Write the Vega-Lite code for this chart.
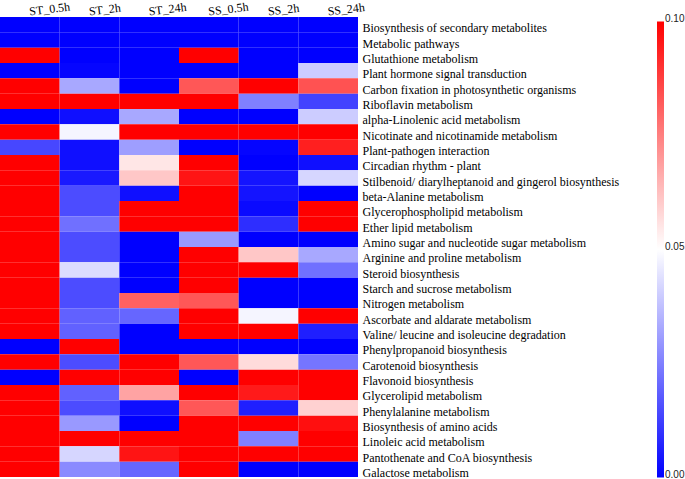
{
  "$schema": "https://vega.github.io/schema/vega-lite/v6.json",
  "autosize": {"type": "none"},
  "padding": {"left": 0, "top": 17, "right": 327, "bottom": 2},
  "width": 358,
  "height": 460,
  "background": "white",
  "data": {"values": [
    {"p":"Biosynthesis of secondary metabolites","s":"ST_0.5h","v":0},{"p":"Biosynthesis of secondary metabolites","s":"ST_2h","v":0},{"p":"Biosynthesis of secondary metabolites","s":"ST_24h","v":0},{"p":"Biosynthesis of secondary metabolites","s":"SS_0.5h","v":0},{"p":"Biosynthesis of secondary metabolites","s":"SS_2h","v":0},{"p":"Biosynthesis of secondary metabolites","s":"SS_24h","v":0},
    {"p":"Metabolic pathways","s":"ST_0.5h","v":0},{"p":"Metabolic pathways","s":"ST_2h","v":0},{"p":"Metabolic pathways","s":"ST_24h","v":0},{"p":"Metabolic pathways","s":"SS_0.5h","v":0},{"p":"Metabolic pathways","s":"SS_2h","v":0},{"p":"Metabolic pathways","s":"SS_24h","v":0},
    {"p":"Glutathione metabolism","s":"ST_0.5h","v":0.1},{"p":"Glutathione metabolism","s":"ST_2h","v":0},{"p":"Glutathione metabolism","s":"ST_24h","v":0},{"p":"Glutathione metabolism","s":"SS_0.5h","v":0.1},{"p":"Glutathione metabolism","s":"SS_2h","v":0},{"p":"Glutathione metabolism","s":"SS_24h","v":0},
    {"p":"Plant hormone signal transduction","s":"ST_0.5h","v":0},{"p":"Plant hormone signal transduction","s":"ST_2h","v":0.001},{"p":"Plant hormone signal transduction","s":"ST_24h","v":0},{"p":"Plant hormone signal transduction","s":"SS_0.5h","v":0},{"p":"Plant hormone signal transduction","s":"SS_2h","v":0},{"p":"Plant hormone signal transduction","s":"SS_24h","v":0.04},
    {"p":"Carbon fixation in photosynthetic organisms","s":"ST_0.5h","v":0.1},{"p":"Carbon fixation in photosynthetic organisms","s":"ST_2h","v":0.033},{"p":"Carbon fixation in photosynthetic organisms","s":"ST_24h","v":0},{"p":"Carbon fixation in photosynthetic organisms","s":"SS_0.5h","v":0.083},{"p":"Carbon fixation in photosynthetic organisms","s":"SS_2h","v":0.1},{"p":"Carbon fixation in photosynthetic organisms","s":"SS_24h","v":0.084},
    {"p":"Riboflavin metabolism","s":"ST_0.5h","v":0.1},{"p":"Riboflavin metabolism","s":"ST_2h","v":0.1},{"p":"Riboflavin metabolism","s":"ST_24h","v":0.1},{"p":"Riboflavin metabolism","s":"SS_0.5h","v":0.1},{"p":"Riboflavin metabolism","s":"SS_2h","v":0.025},{"p":"Riboflavin metabolism","s":"SS_24h","v":0.013},
    {"p":"alpha-Linolenic acid metabolism","s":"ST_0.5h","v":0},{"p":"alpha-Linolenic acid metabolism","s":"ST_2h","v":0.003},{"p":"alpha-Linolenic acid metabolism","s":"ST_24h","v":0.033},{"p":"alpha-Linolenic acid metabolism","s":"SS_0.5h","v":0},{"p":"alpha-Linolenic acid metabolism","s":"SS_2h","v":0},{"p":"alpha-Linolenic acid metabolism","s":"SS_24h","v":0.04},
    {"p":"Nicotinate and nicotinamide metabolism","s":"ST_0.5h","v":0.1},{"p":"Nicotinate and nicotinamide metabolism","s":"ST_2h","v":0.048},{"p":"Nicotinate and nicotinamide metabolism","s":"ST_24h","v":0.1},{"p":"Nicotinate and nicotinamide metabolism","s":"SS_0.5h","v":0.1},{"p":"Nicotinate and nicotinamide metabolism","s":"SS_2h","v":0.1},{"p":"Nicotinate and nicotinamide metabolism","s":"SS_24h","v":0.1},
    {"p":"Plant-pathogen interaction","s":"ST_0.5h","v":0.014},{"p":"Plant-pathogen interaction","s":"ST_2h","v":0.003},{"p":"Plant-pathogen interaction","s":"ST_24h","v":0.031},{"p":"Plant-pathogen interaction","s":"SS_0.5h","v":0},{"p":"Plant-pathogen interaction","s":"SS_2h","v":0.001},{"p":"Plant-pathogen interaction","s":"SS_24h","v":0.094},
    {"p":"Circadian rhythm - plant","s":"ST_0.5h","v":0.1},{"p":"Circadian rhythm - plant","s":"ST_2h","v":0.003},{"p":"Circadian rhythm - plant","s":"ST_24h","v":0.055},{"p":"Circadian rhythm - plant","s":"SS_0.5h","v":0.1},{"p":"Circadian rhythm - plant","s":"SS_2h","v":0},{"p":"Circadian rhythm - plant","s":"SS_24h","v":0.003},
    {"p":"Stilbenoid/ diarylheptanoid and gingerol biosynthesis","s":"ST_0.5h","v":0.1},{"p":"Stilbenoid/ diarylheptanoid and gingerol biosynthesis","s":"ST_2h","v":0.005},{"p":"Stilbenoid/ diarylheptanoid and gingerol biosynthesis","s":"ST_24h","v":0.061},{"p":"Stilbenoid/ diarylheptanoid and gingerol biosynthesis","s":"SS_0.5h","v":0.096},{"p":"Stilbenoid/ diarylheptanoid and gingerol biosynthesis","s":"SS_2h","v":0.004},{"p":"Stilbenoid/ diarylheptanoid and gingerol biosynthesis","s":"SS_24h","v":0.042},
    {"p":"beta-Alanine metabolism","s":"ST_0.5h","v":0.1},{"p":"beta-Alanine metabolism","s":"ST_2h","v":0.015},{"p":"beta-Alanine metabolism","s":"ST_24h","v":0.003},{"p":"beta-Alanine metabolism","s":"SS_0.5h","v":0.1},{"p":"beta-Alanine metabolism","s":"SS_2h","v":0.004},{"p":"beta-Alanine metabolism","s":"SS_24h","v":0},
    {"p":"Glycerophospholipid metabolism","s":"ST_0.5h","v":0.1},{"p":"Glycerophospholipid metabolism","s":"ST_2h","v":0.015},{"p":"Glycerophospholipid metabolism","s":"ST_24h","v":0.1},{"p":"Glycerophospholipid metabolism","s":"SS_0.5h","v":0.1},{"p":"Glycerophospholipid metabolism","s":"SS_2h","v":0.002},{"p":"Glycerophospholipid metabolism","s":"SS_24h","v":0.1},
    {"p":"Ether lipid metabolism","s":"ST_0.5h","v":0.1},{"p":"Ether lipid metabolism","s":"ST_2h","v":0.022},{"p":"Ether lipid metabolism","s":"ST_24h","v":0.1},{"p":"Ether lipid metabolism","s":"SS_0.5h","v":0.1},{"p":"Ether lipid metabolism","s":"SS_2h","v":0.009},{"p":"Ether lipid metabolism","s":"SS_24h","v":0.1},
    {"p":"Amino sugar and nucleotide sugar metabolism","s":"ST_0.5h","v":0.1},{"p":"Amino sugar and nucleotide sugar metabolism","s":"ST_2h","v":0.015},{"p":"Amino sugar and nucleotide sugar metabolism","s":"ST_24h","v":0},{"p":"Amino sugar and nucleotide sugar metabolism","s":"SS_0.5h","v":0.03},{"p":"Amino sugar and nucleotide sugar metabolism","s":"SS_2h","v":0},{"p":"Amino sugar and nucleotide sugar metabolism","s":"SS_24h","v":0},
    {"p":"Arginine and proline metabolism","s":"ST_0.5h","v":0.1},{"p":"Arginine and proline metabolism","s":"ST_2h","v":0.015},{"p":"Arginine and proline metabolism","s":"ST_24h","v":0},{"p":"Arginine and proline metabolism","s":"SS_0.5h","v":0.1},{"p":"Arginine and proline metabolism","s":"SS_2h","v":0.061},{"p":"Arginine and proline metabolism","s":"SS_24h","v":0.033},
    {"p":"Steroid biosynthesis","s":"ST_0.5h","v":0.1},{"p":"Steroid biosynthesis","s":"ST_2h","v":0.043},{"p":"Steroid biosynthesis","s":"ST_24h","v":0},{"p":"Steroid biosynthesis","s":"SS_0.5h","v":0.1},{"p":"Steroid biosynthesis","s":"SS_2h","v":0.1},{"p":"Steroid biosynthesis","s":"SS_24h","v":0.022},
    {"p":"Starch and sucrose metabolism","s":"ST_0.5h","v":0.1},{"p":"Starch and sucrose metabolism","s":"ST_2h","v":0.015},{"p":"Starch and sucrose metabolism","s":"ST_24h","v":0},{"p":"Starch and sucrose metabolism","s":"SS_0.5h","v":0.1},{"p":"Starch and sucrose metabolism","s":"SS_2h","v":0},{"p":"Starch and sucrose metabolism","s":"SS_24h","v":0},
    {"p":"Nitrogen metabolism","s":"ST_0.5h","v":0.1},{"p":"Nitrogen metabolism","s":"ST_2h","v":0.015},{"p":"Nitrogen metabolism","s":"ST_24h","v":0.081},{"p":"Nitrogen metabolism","s":"SS_0.5h","v":0.083},{"p":"Nitrogen metabolism","s":"SS_2h","v":0},{"p":"Nitrogen metabolism","s":"SS_24h","v":0},
    {"p":"Ascorbate and aldarate metabolism","s":"ST_0.5h","v":0.1},{"p":"Ascorbate and aldarate metabolism","s":"ST_2h","v":0.019},{"p":"Ascorbate and aldarate metabolism","s":"ST_24h","v":0.02},{"p":"Ascorbate and aldarate metabolism","s":"SS_0.5h","v":0.1},{"p":"Ascorbate and aldarate metabolism","s":"SS_2h","v":0.048},{"p":"Ascorbate and aldarate metabolism","s":"SS_24h","v":0.1},
    {"p":"Valine/ leucine and isoleucine degradation","s":"ST_0.5h","v":0.1},{"p":"Valine/ leucine and isoleucine degradation","s":"ST_2h","v":0.019},{"p":"Valine/ leucine and isoleucine degradation","s":"ST_24h","v":0},{"p":"Valine/ leucine and isoleucine degradation","s":"SS_0.5h","v":0.1},{"p":"Valine/ leucine and isoleucine degradation","s":"SS_2h","v":0.1},{"p":"Valine/ leucine and isoleucine degradation","s":"SS_24h","v":0.006},
    {"p":"Phenylpropanoid biosynthesis","s":"ST_0.5h","v":0},{"p":"Phenylpropanoid biosynthesis","s":"ST_2h","v":0.1},{"p":"Phenylpropanoid biosynthesis","s":"ST_24h","v":0},{"p":"Phenylpropanoid biosynthesis","s":"SS_0.5h","v":0},{"p":"Phenylpropanoid biosynthesis","s":"SS_2h","v":0},{"p":"Phenylpropanoid biosynthesis","s":"SS_24h","v":0},
    {"p":"Carotenoid biosynthesis","s":"ST_0.5h","v":0.1},{"p":"Carotenoid biosynthesis","s":"ST_2h","v":0.015},{"p":"Carotenoid biosynthesis","s":"ST_24h","v":0.1},{"p":"Carotenoid biosynthesis","s":"SS_0.5h","v":0.083},{"p":"Carotenoid biosynthesis","s":"SS_2h","v":0.057},{"p":"Carotenoid biosynthesis","s":"SS_24h","v":0.023},
    {"p":"Flavonoid biosynthesis","s":"ST_0.5h","v":0},{"p":"Flavonoid biosynthesis","s":"ST_2h","v":0.1},{"p":"Flavonoid biosynthesis","s":"ST_24h","v":0.1},{"p":"Flavonoid biosynthesis","s":"SS_0.5h","v":0},{"p":"Flavonoid biosynthesis","s":"SS_2h","v":0.1},{"p":"Flavonoid biosynthesis","s":"SS_24h","v":0.1},
    {"p":"Glycerolipid metabolism","s":"ST_0.5h","v":0.1},{"p":"Glycerolipid metabolism","s":"ST_2h","v":0.019},{"p":"Glycerolipid metabolism","s":"ST_24h","v":0.068},{"p":"Glycerolipid metabolism","s":"SS_0.5h","v":0.1},{"p":"Glycerolipid metabolism","s":"SS_2h","v":0.095},{"p":"Glycerolipid metabolism","s":"SS_24h","v":0.1},
    {"p":"Phenylalanine metabolism","s":"ST_0.5h","v":0.1},{"p":"Phenylalanine metabolism","s":"ST_2h","v":0.015},{"p":"Phenylalanine metabolism","s":"ST_24h","v":0.003},{"p":"Phenylalanine metabolism","s":"SS_0.5h","v":0.083},{"p":"Phenylalanine metabolism","s":"SS_2h","v":0.006},{"p":"Phenylalanine metabolism","s":"SS_24h","v":0.059},
    {"p":"Biosynthesis of amino acids","s":"ST_0.5h","v":0.1},{"p":"Biosynthesis of amino acids","s":"ST_2h","v":0.03},{"p":"Biosynthesis of amino acids","s":"ST_24h","v":0},{"p":"Biosynthesis of amino acids","s":"SS_0.5h","v":0.1},{"p":"Biosynthesis of amino acids","s":"SS_2h","v":0.1},{"p":"Biosynthesis of amino acids","s":"SS_24h","v":0.097},
    {"p":"Linoleic acid metabolism","s":"ST_0.5h","v":0.1},{"p":"Linoleic acid metabolism","s":"ST_2h","v":0.1},{"p":"Linoleic acid metabolism","s":"ST_24h","v":0.1},{"p":"Linoleic acid metabolism","s":"SS_0.5h","v":0.1},{"p":"Linoleic acid metabolism","s":"SS_2h","v":0.025},{"p":"Linoleic acid metabolism","s":"SS_24h","v":0.1},
    {"p":"Pantothenate and CoA biosynthesis","s":"ST_0.5h","v":0.1},{"p":"Pantothenate and CoA biosynthesis","s":"ST_2h","v":0.042},{"p":"Pantothenate and CoA biosynthesis","s":"ST_24h","v":0.096},{"p":"Pantothenate and CoA biosynthesis","s":"SS_0.5h","v":0.1},{"p":"Pantothenate and CoA biosynthesis","s":"SS_2h","v":0.1},{"p":"Pantothenate and CoA biosynthesis","s":"SS_24h","v":0.1},
    {"p":"Galactose metabolism","s":"ST_0.5h","v":0.1},{"p":"Galactose metabolism","s":"ST_2h","v":0.027},{"p":"Galactose metabolism","s":"ST_24h","v":0.02},{"p":"Galactose metabolism","s":"SS_0.5h","v":0.1},{"p":"Galactose metabolism","s":"SS_2h","v":0},{"p":"Galactose metabolism","s":"SS_24h","v":0}
  ]},
  "mark": {"type": "rect"},
  "encoding": {
    "x": {
      "field": "s", "type": "nominal",
      "sort": ["ST_0.5h","ST_2h","ST_24h","SS_0.5h","SS_2h","SS_24h"],
      "scale": {"paddingInner": 0, "paddingOuter": 0},
      "axis": {"orient": "top", "title": null, "ticks": false, "domain": false, "labelAngle": -7, "labelAlign": "left", "labelBaseline": "alphabetic", "labelPadding": 2, "labelFont": "Liberation Serif", "labelFontSize": 12, "labelColor": "#000000"}
    },
    "y": {
      "field": "p", "type": "nominal", "sort": null,
      "scale": {"paddingInner": 0, "paddingOuter": 0},
      "axis": {"orient": "right", "title": null, "ticks": false, "domain": false, "labelPadding": 4, "labelFont": "Liberation Serif", "labelFontSize": 12, "labelColor": "#000000", "labelLimit": 0, "labelOffset": 3.5}
    },
    "color": {
      "field": "v", "type": "quantitative",
      "scale": {"domain": [0, 0.05, 0.1], "range": ["#0000ff", "#ffffff", "#ff0000"], "interpolate": "rgb", "clamp": true},
      "legend": {"orient": "none", "legendX": 657, "legendY": 4.5, "direction": "vertical", "gradientLength": 456, "gradientThickness": 7, "gradientStrokeWidth": 0, "values": [0, 0.05, 0.1], "format": ".2f", "title": null, "labelFont": "Liberation Sans", "labelFontSize": 10, "labelColor": "#222222", "labelOffset": 1,
        "encode": {"labels": {"update": {"baseline": {"value": "alphabetic"}}}}}
    }
  },
  "config": {"view": {"stroke": null}}
}
